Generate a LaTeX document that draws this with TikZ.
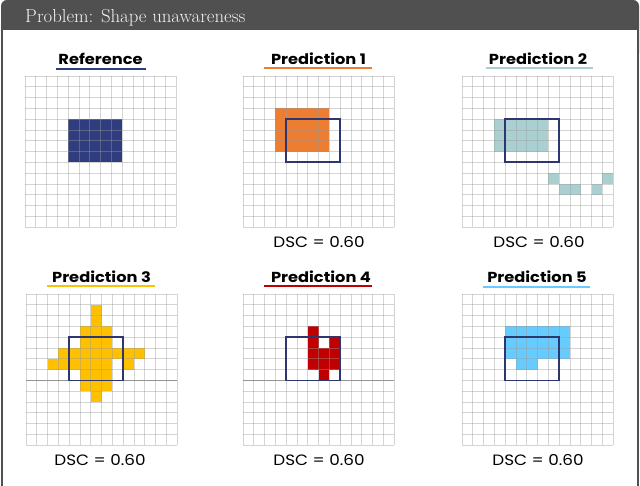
\documentclass[tikz,border=0pt]{standalone}
\usepackage{fontspec}
\newfontfamily\pop{Poppins}[FakeStretch=1.12]
\definecolor{framec}{HTML}{505050}
\definecolor{titlec}{HTML}{F2F2F2}
\definecolor{navy}{HTML}{2F3C7E}
\definecolor{outl}{HTML}{2E3670}
\definecolor{orangec}{HTML}{ED7D31}
\definecolor{tealc}{HTML}{AACFD0}
\definecolor{yellowc}{HTML}{FFC000}
\definecolor{redc}{HTML}{C00000}
\definecolor{bluec}{HTML}{66CCFF}
\definecolor{gridc}{HTML}{9A9A9A}
\newcommand{\cellfill}[2]{\foreach \c/\r in {#2} {\fill[#1] (\c,\r) rectangle ++(1,1);}}
\newcommand{\gridlines}{\foreach \i in {0,...,14} {\draw[gridl] (\i,0) -- (\i,14); \draw[gridl] (0,\i) -- (14,\i);}}
\tikzset{
  gridl/.style={draw=gridc, draw opacity=0.42, line width=0.8pt},
  darkl/.style={draw=gray!85, line width=0.8pt},
  outline/.style={draw=outl, line width=1.8pt},
  paneltitle/.style={font=\pop\bfseries\fontsize{14.5}{16}\selectfont, text=black, inner sep=0pt},
  dsc/.style={font=\pop\fontsize{15}{16}\selectfont, text=black, inner sep=0pt},
  ul/.style={line width=2pt},
  cellscope/.style={x=10.8pt, y=-10.8pt}
}
\begin{document}
\begin{tikzpicture}[x=1pt, y=-1pt]
\useasboundingbox (0,0) rectangle (640,486);
\clip (0,0) rectangle (640,486);
\fill[white] (0,0) rectangle (640,486);
% frame
\fill[framec, rounded corners=6pt] (1,0) rectangle (639,60);
\fill[white] (3,30) rectangle (637,500);
\draw[framec, line width=2pt] (2,20) -- (2,500);
\draw[framec, line width=2pt] (638,20) -- (638,500);
\node[anchor=base west, text=titlec, font=\fontsize{18.8}{22}\selectfont, inner sep=0pt] (head) at (25,22.5) {Problem: Shape unawareness};

% Reference
\begin{scope}[shift={(25,76)}, cellscope]
  \fill[navy] (4,4) rectangle (9,8);
  \gridlines
\end{scope}
% Prediction 1
\begin{scope}[shift={(243,76)}, cellscope]
  \fill[orangec] (3,3) rectangle (8,7);
  \gridlines
  \draw[outline] (4,4) rectangle (9,8);
\end{scope}
% Prediction 2
\begin{scope}[shift={(462,76)}, cellscope]
  \fill[tealc] (3,4) rectangle (8,7);
  \cellfill{tealc}{8/9,9/10,10/10,12/10,13/9}
  \gridlines
  \draw[outline] (4,4) rectangle (9,8);
\end{scope}
% Prediction 3
\begin{scope}[shift={(26,294)}, cellscope]
  \cellfill{yellowc}{6/1,6/2,5/3,6/3,7/3,5/4,6/4,7/4,3/5,4/5,5/5,6/5,7/5,8/5,9/5,10/5,2/6,3/6,4/6,5/6,6/6,7/6,9/6,5/7,6/7,7/7,5/8,6/8,7/8,6/9}
  \gridlines
  \draw[darkl] (0,8) -- (14,8);
  \draw[outline] (4,4) rectangle (9,8);
\end{scope}
% Prediction 4
\begin{scope}[shift={(243,294)}, cellscope]
  \cellfill{redc}{6/3,6/4,8/4,6/5,7/5,8/5,6/6,7/6,8/6,7/7}
  \gridlines
  \draw[darkl] (0,8) -- (14,8);
  \draw[outline] (4,4) rectangle (9,8);
\end{scope}
% Prediction 5
\begin{scope}[shift={(462,294)}, cellscope]
  \fill[bluec] (4,3) rectangle (10,6);
  \cellfill{bluec}{5/6,6/6}
  \gridlines
  \draw[outline] (4,4) rectangle (9,8);
\end{scope}

% titles
\node[paneltitle] (t0) at (100.5,59) {Reference};
\node[paneltitle] (t1) at (318.5,59) {Prediction 1};
\node[paneltitle] (t2) at (538,59) {Prediction 2};
\node[paneltitle] (t3) at (101.5,277) {Prediction 3};
\node[paneltitle] (t4) at (321,277) {Prediction 4};
\node[paneltitle] (t5) at (537,277) {Prediction 5};
\draw[ul, navy] (56,69) -- (146,69);
\draw[ul, orangec] (264,68) -- (372,68);
\draw[ul, tealc] (486,68) -- (593,68);
\draw[ul, yellowc] (47,286) -- (155,286);
\draw[ul, redc] (264,286) -- (372,286);
\draw[ul, bluec] (483,287) -- (590,287);

% DSC
\node[dsc] (d1) at (319,242) {DSC = 0.60};
\node[dsc] (d2) at (539,242) {DSC = 0.60};
\node[dsc] (d3) at (100,460) {DSC = 0.60};
\node[dsc] (d4) at (319,460) {DSC = 0.60};
\node[dsc] (d5) at (538,460) {DSC = 0.60};
\end{tikzpicture}
\end{document}
